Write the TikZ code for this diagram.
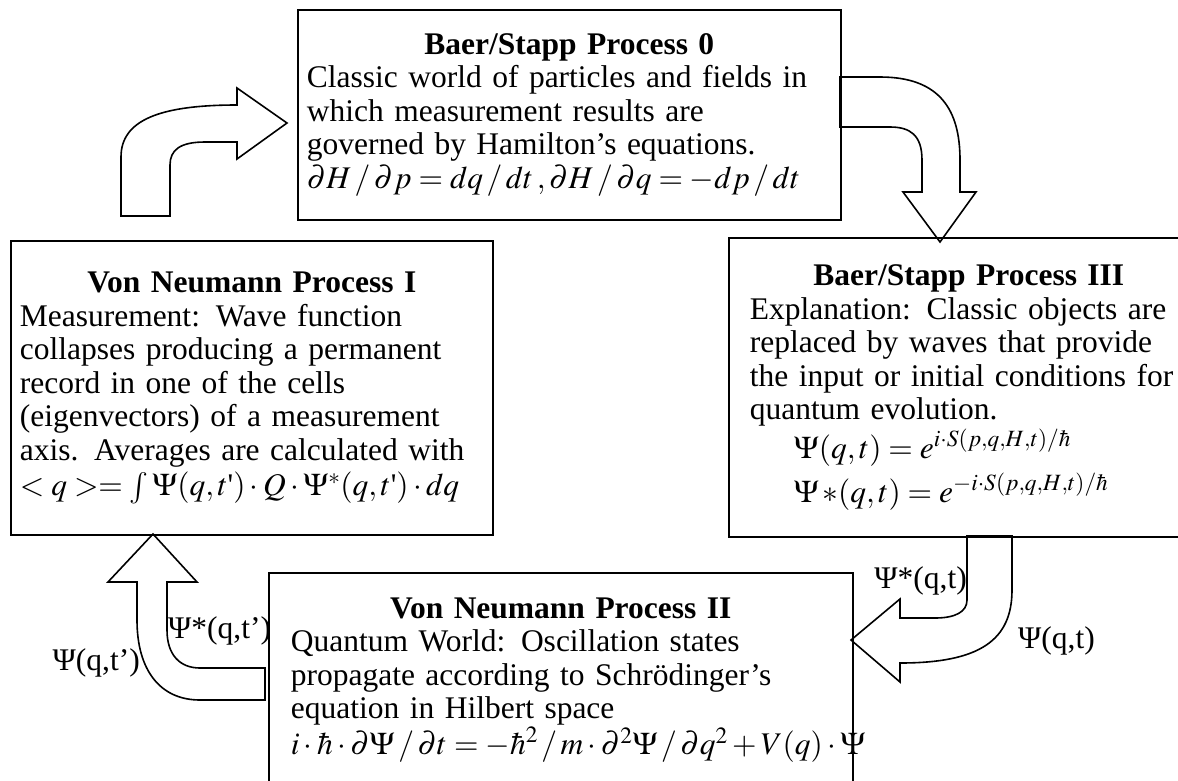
\documentclass[tikz,border=0pt]{standalone}
\usepackage{mathptmx}
\usepackage{fontspec}
\setmainfont{Liberation Serif}
\usetikzlibrary{positioning}
\newcommand{\proctitle}[1]{{\centering\bfseries #1\par}}

\begin{document}
\begin{tikzpicture}[x=1pt,y=-1pt,
    procbox/.style={draw, line width=1.6pt, anchor=north west, align=left, inner ysep=4pt, font=\fontsize{31.5}{33.5}\selectfont},
    bigarrow/.style={draw, line width=1.6pt, fill=white, line join=miter},
    lbl/.style={inner sep=0pt, font=\fontsize{31.5}{33.5}\selectfont}]
\useasboundingbox (0,0) rectangle (1178,780);
\draw[bigarrow] (121,216) -- (121,157) .. controls (121,120) and (160,105) .. (237,105) -- (237,88) -- (287,123) -- (237,159) -- (237,142) -- (205,142) .. controls (180,142) and (170,150) .. (170,165) -- (170,216) -- cycle;
\draw[bigarrow] (840,77) -- (880,77) .. controls (940,77) and (960,110) .. (960,160) -- (960,192) -- (976,192) -- (940,242) -- (903,192) -- (922,192) -- (922,160) .. controls (922,135) and (910,127) .. (890,127) -- (840,127) -- cycle;
\draw[bigarrow] (967,536) -- (967,600) .. controls (967,612) and (955,618) .. (935,618) -- (900,618) -- (900,599) -- (851,640) -- (900,682) -- (900,663) .. controls (980,663) and (1012,640) .. (1012,590) -- (1012,536) -- cycle;
\draw[bigarrow] (265,668) -- (200,668) .. controls (180,668) and (167,655) .. (167,630) -- (167,582) -- (197,582) -- (153,534) -- (108,582) -- (137,582) -- (137,620) .. controls (137,670) and (160,700) .. (200,700) -- (265,700) -- cycle;
\node[procbox, inner xsep=9pt, text width=525pt, minimum width=543pt, minimum height=210pt] at (297,9) (proc0) {\proctitle{Baer/Stapp Process 0}Classic world of particles and fields in\\ which measurement results are\\ governed by Hamilton’s equations.\\ $\partial H\,/\,\partial p = dq\,/\,dt\,,\partial H\,/\,\partial q = -dp\,/\,dt$};
\node[procbox, inner xsep=9pt, text width=464pt, minimum width=482pt, minimum height=294pt] at (10,240) (proc1) {\proctitle{Von Neumann Process I}Measurement: Wave function\\ collapses producing a permanent\\ record in one of the cells\\ (eigenvectors) of a measurement\\ axis. Averages are calculated with\\[2pt] $<q>=\int\Psi(q,t\mbox{\textquotesingle})\cdot Q\cdot\Psi^{*}(q,t\mbox{\textquotesingle})\cdot dq$};
\node[procbox, inner xsep=21pt, text width=438pt, minimum width=480pt, minimum height=299pt] at (728,237) (proc3) {\proctitle{Baer/Stapp Process III}Explanation: Classic objects are\\ replaced by waves that provide\\ the input or initial conditions for\\ quantum evolution.\\[2pt] \hspace*{1.4em}$\Psi(q,t)=e^{i\cdot S(p,q,H,t)/\hbar}$\\[6pt] \hspace*{1.4em}$\Psi\,{*}(q,t)=e^{-i\cdot S(p,q,H,t)/\hbar}$\par\vspace*{10pt}};
\node[procbox, inner xsep=22pt, text width=540pt, minimum width=584pt, minimum height=215pt] at (268,572) (proc2) {\proctitle{Von Neumann Process II}Quantum World: Oscillation states\\ propagate according to Schrödinger’s\\ equation in Hilbert space\\ \mbox{$i\cdot\hbar\cdot\partial\Psi\,/\,\partial t=-\hbar^{2}\,/\,m\cdot\partial^{2}\Psi\,/\,\partial q^{2}+V(q)\cdot\Psi$}};
\node[lbl, anchor=base east] at (967,588) (psistar) {Ψ*(q,t)};
\node[lbl, anchor=base west] at (1018,648) (psi) {Ψ(q,t)};
\node[lbl, anchor=base west] at (168,638) (psistarp) {Ψ*(q,t’)};
\node[lbl, anchor=base east] at (140,670) (psip) {Ψ(q,t’)};
\end{tikzpicture}
\end{document}
